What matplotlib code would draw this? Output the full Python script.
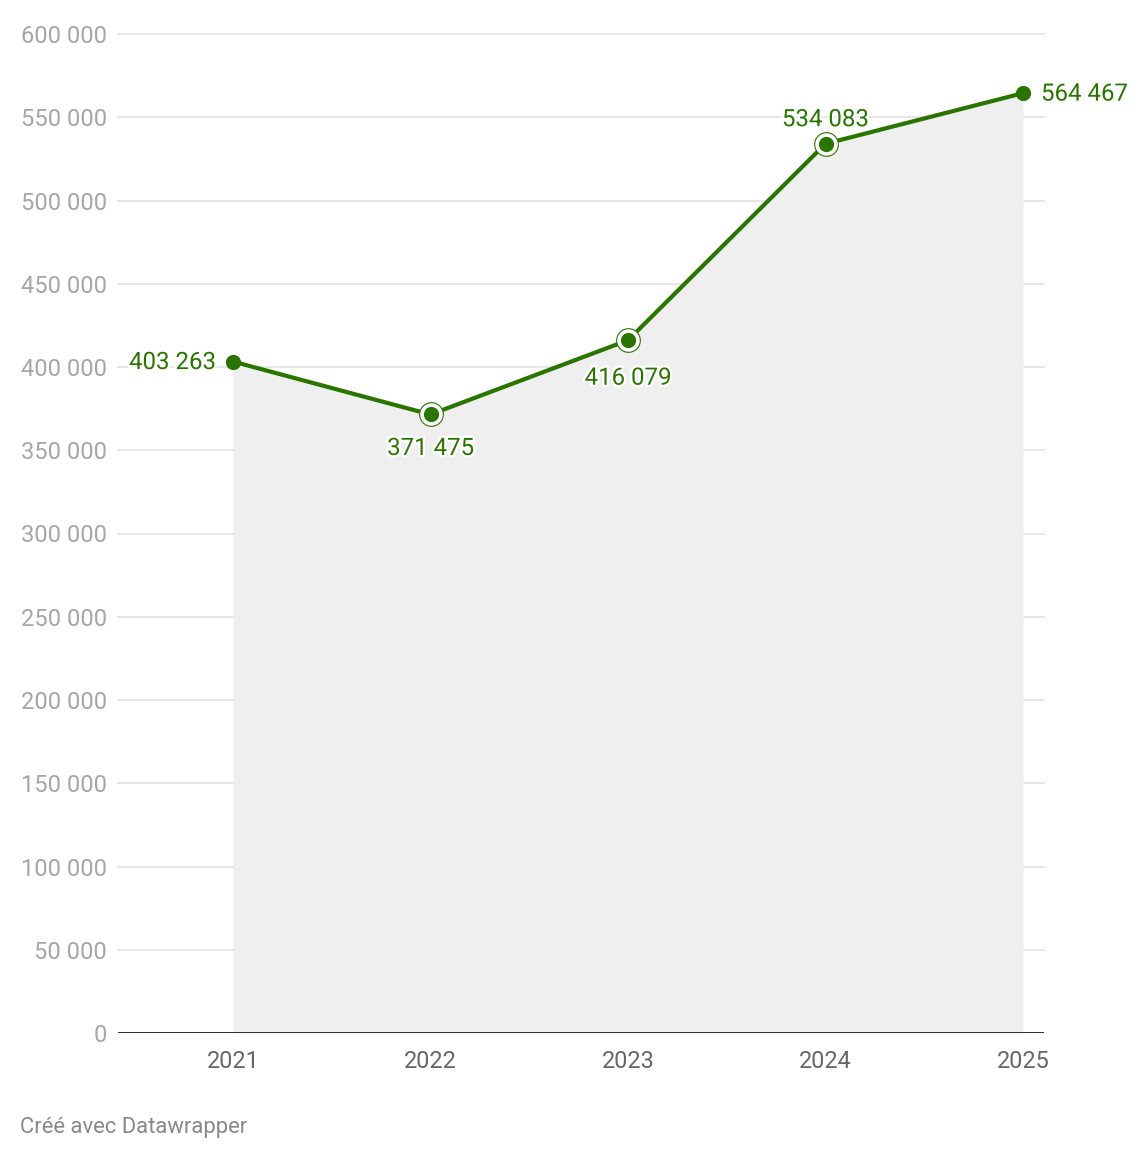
import matplotlib
matplotlib.use("Agg")
import matplotlib.pyplot as plt
import matplotlib.patheffects as pe
from matplotlib.ticker import FuncFormatter

plt.rcParams['font.family'] = ['Roboto', 'DejaVu Sans']

years = [2021, 2022, 2023, 2024, 2025]
values = [403263, 371475, 416079, 534083, 564467]
yticks = [0, 50000, 100000, 150000, 200000, 250000, 300000, 350000, 400000, 450000, 500000, 550000, 600000]
label_pos = ["left", "below", "below", "above", "right"]
ringed = [False, True, True, True, False]

green = "#2a7500"
fig = plt.figure(figsize=(11.48, 11.6), dpi=100)
ax = fig.add_axes([118/1148, 1 - 1033/1160, 926/1148, 999/1160])
ax.set_xlim(2021 - 115/197.5, 2025 + 21/197.5)
ax.set_ylim(0, 600000)

ax.fill_between(years, values, 0, color="#efefef", zorder=1, linewidth=0)
for y in yticks[1:]:
    ax.axhline(y, color="#e2e2e2", linewidth=1.2, zorder=0.5, clip_on=False)
ax.axhline(0, color="#1a1a1a", linewidth=2, zorder=3)

ax.plot(years, values, color=green, linewidth=3, zorder=4, solid_capstyle="round")
ry = [v for v, r in zip(values, ringed) if r]
rx = [x for x, r in zip(years, ringed) if r]
ax.scatter(rx, ry, s=290, facecolors="white", edgecolors=green, linewidths=0.8, zorder=4.5)
ax.scatter(years, values, s=120, color=green, zorder=5, linewidths=0)

halo = [pe.withStroke(linewidth=3.5, foreground="white")]
fmt = lambda v: f"{v:,}".replace(",", " ")
offsets = {"left": (-17, -1, "right", "center"), "right": (18, -1, "left", "center"),
           "below": (0, -38, "center", "center"), "above": (0, 24, "center", "center")}
for x, v, p in zip(years, values, label_pos):
    dx, dy, ha, va = offsets[p]
    if p == "below" and x == 2022:
        dy = -34
    ax.annotate(fmt(v), (x, v), xytext=(dx * 0.72, dy * 0.72), textcoords="offset points",
                ha=ha, va=va, fontsize=17.3, color=green, zorder=6, path_effects=halo,
                annotation_clip=False)

ax.set_yticks(yticks)
ax.yaxis.set_major_formatter(FuncFormatter(lambda v, p: fmt(int(v))))
ax.set_xticks(years)
ax.set_xticklabels([str(y) for y in years])
ax.tick_params(axis="y", length=0, pad=8, labelsize=17, labelcolor="#a6a6a6")
ax.tick_params(axis="x", length=0, pad=12.5, labelsize=16.8, labelcolor="#666666")
for s in ax.spines.values():
    s.set_visible(False)

fig.text(20/1148, 1 - 1127/1160, "Créé avec Datawrapper", fontsize=15.8, color="#888888",
         ha="left", va="center")

fig.savefig("out.png", dpi=100)
